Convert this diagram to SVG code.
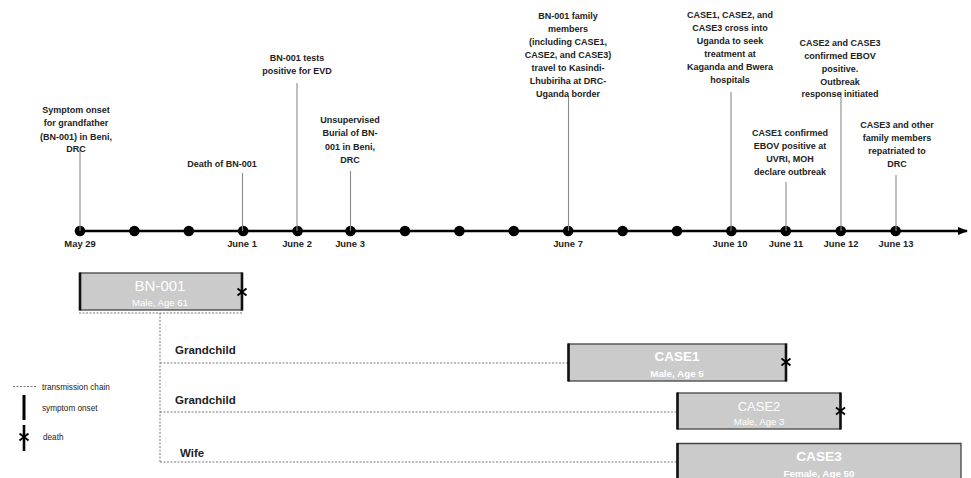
<svg xmlns="http://www.w3.org/2000/svg" width="971" height="478" viewBox="0 0 971 478">
<defs>
<style>
.ev{font-family:"Liberation Sans",Arial,sans-serif;font-weight:bold;font-size:9px;fill:#222;text-anchor:middle}
.dt{font-family:"Liberation Sans",Arial,sans-serif;font-weight:bold;font-size:9.4px;fill:#222;text-anchor:middle}
.stem{stroke:#8a8a8a;stroke-width:1.1;fill:none}
.dot{fill:#000}
.box{fill:#cbcbcb;stroke:#444;stroke-width:1.3}
.edge{stroke:#111;stroke-width:2.6;fill:none}
.ast{stroke:#000;stroke-width:1.8;fill:none}
.chain{stroke:#777;stroke-width:1;stroke-dasharray:2 1.5;fill:none}
.rel{font-family:"Liberation Sans",Arial,sans-serif;font-weight:bold;font-size:11.5px;fill:#222}
.lg{font-family:"Liberation Sans",Arial,sans-serif;font-size:8.2px;fill:#222}
.nm{font-family:"Liberation Sans",Arial,sans-serif;fill:#fff;text-anchor:middle}
</style>
<marker id="arr" markerWidth="10" markerHeight="8" refX="9" refY="4" orient="auto" markerUnits="userSpaceOnUse">
<path d="M0,0 L10,4 L0,8 z" fill="#000"/>
</marker>
</defs>

<g id="timeline">
<line x1="80" y1="231" x2="967" y2="231" stroke="#000" stroke-width="2.6" marker-end="url(#arr)"/>
<g class="dot">
<circle cx="80" cy="231" r="5.3"/><circle cx="134.4" cy="231" r="5.3"/><circle cx="188.8" cy="231" r="5.3"/><circle cx="243.2" cy="231" r="5.3"/>
<circle cx="297.6" cy="231" r="5.3"/><circle cx="350.5" cy="231" r="5.3"/><circle cx="405" cy="231" r="5.3"/><circle cx="459.4" cy="231" r="5.3"/>
<circle cx="513.8" cy="231" r="5.3"/><circle cx="568.2" cy="231" r="5.3"/><circle cx="622.6" cy="231" r="5.3"/><circle cx="677" cy="231" r="5.3"/>
<circle cx="731.4" cy="231" r="5.3"/><circle cx="785.8" cy="231" r="5.3"/><circle cx="840.8" cy="231" r="5.3"/><circle cx="895.6" cy="231" r="5.3"/>
</g>
<text class="dt" x="80" y="246.5">May 29</text>
<text class="dt" x="242" y="246.5">June 1</text>
<text class="dt" x="297" y="246.5">June 2</text>
<text class="dt" x="350" y="246.5">June 3</text>
<text class="dt" x="568" y="246.5">June 7</text>
<text class="dt" x="730" y="246.5">June 10</text>
<text class="dt" x="786" y="246.5">June 11</text>
<text class="dt" x="841" y="246.5">June 12</text>
<text class="dt" x="896" y="246.5">June 13</text>
</g>

<g id="connectors">
<line class="stem" x1="80" y1="149" x2="80" y2="231"/>
<line class="stem" x1="242.5" y1="173" x2="242.5" y2="231"/>
<line class="stem" x1="297" y1="83" x2="297" y2="231"/>
<line class="stem" x1="350.5" y1="171" x2="350.5" y2="231"/>
<line class="stem" x1="568.5" y1="96" x2="568.5" y2="231"/>
<line class="stem" x1="731" y1="92" x2="731" y2="231"/>
<line class="stem" x1="786" y1="182" x2="786" y2="231"/>
<line class="stem" x1="841" y1="92" x2="841" y2="231"/>
<line class="stem" x1="896" y1="175" x2="896" y2="231"/>
<path class="chain" d="M79,313 H242 M160,313 V462 M160,363 H568 M160,412 H677 M160,462 H677"/>
</g>

<g id="ev-may29"><text class="ev"><tspan x="76" y="113">Symptom onset</tspan><tspan x="76" y="126">for grandfather</tspan><tspan x="76" y="139.5">(BN-001) in Beni,</tspan><tspan x="76" y="152">DRC</tspan></text></g>
<g id="ev-june1"><text class="ev" x="222" y="166.5">Death of BN-001</text></g>
<g id="ev-june2"><text class="ev"><tspan x="297" y="61">BN-001 tests</tspan><tspan x="297" y="74">positive for EVD</tspan></text></g>
<g id="ev-june3"><text class="ev"><tspan x="350" y="122.5">Unsupervised</tspan><tspan x="350" y="136">Burial of BN-</tspan><tspan x="350" y="149.5">001 in Beni,</tspan><tspan x="350" y="162.5">DRC</tspan></text></g>
<g id="ev-june7"><text class="ev"><tspan x="568" y="19">BN-001 family</tspan><tspan x="568" y="32">members</tspan><tspan x="568" y="45">(including CASE1,</tspan><tspan x="568" y="58">CASE2, and CASE3)</tspan><tspan x="568" y="71">travel to Kasindi-</tspan><tspan x="568" y="84">Lhubiriha at DRC-</tspan><tspan x="568" y="97">Uganda border</tspan></text></g>
<g id="ev-june10"><text class="ev"><tspan x="730" y="17.5">CASE1, CASE2, and</tspan><tspan x="730" y="30.5">CASE3 cross into</tspan><tspan x="730" y="43.5">Uganda to seek</tspan><tspan x="730" y="56.5">treatment at</tspan><tspan x="730" y="69.5">Kaganda and Bwera</tspan><tspan x="730" y="82.5">hospitals</tspan></text></g>
<g id="ev-june11"><text class="ev"><tspan x="790" y="135.5">CASE1 confirmed</tspan><tspan x="790" y="148.5">EBOV positive at</tspan><tspan x="790" y="161.5">UVRI, MOH</tspan><tspan x="790" y="174.5">declare outbreak</tspan></text></g>
<g id="ev-june12"><text class="ev"><tspan x="840" y="45.5">CASE2 and CASE3</tspan><tspan x="840" y="58.5">confirmed EBOV</tspan><tspan x="840" y="71.5">positive.</tspan><tspan x="840" y="84.5">Outbreak</tspan><tspan x="840" y="97">response initiated</tspan></text></g>
<g id="ev-june13"><text class="ev"><tspan x="897" y="127.5">CASE3 and other</tspan><tspan x="897" y="140.5">family members</tspan><tspan x="897" y="153.5">repatriated to</tspan><tspan x="897" y="166.5">DRC</tspan></text></g>

<g id="bn001">
<rect class="box" x="80" y="273" width="162" height="37"/>
<line class="edge" x1="80" y1="272.5" x2="80" y2="310.5"/>
<line class="edge" x1="242" y1="272.5" x2="242" y2="310.5"/>
<path class="ast" d="M237.5,288.5 L246.5,295.5 M237.5,295.5 L246.5,288.5"/>
<text class="nm" x="160" y="290.5" font-size="15">BN-001</text>
<text class="nm" x="160" y="305.5" font-size="9.6">Male, Age 61</text>
</g>

<g id="lbl-grandchild1"><text class="rel" x="175" y="354">Grandchild</text></g>
<g id="lbl-grandchild2"><text class="rel" x="175" y="404">Grandchild</text></g>
<g id="lbl-wife"><text class="rel" x="180" y="457">Wife</text></g>

<g id="case1">
<rect class="box" x="568.5" y="344" width="217.5" height="37"/>
<line class="edge" x1="568.5" y1="343.5" x2="568.5" y2="381.5"/>
<line class="edge" x1="786" y1="343.5" x2="786" y2="381.5"/>
<path class="ast" d="M781.5,358.5 L790.5,365.5 M781.5,365.5 L790.5,358.5"/>
<text class="nm" x="677" y="361" font-size="13.5" font-weight="bold">CASE1</text>
<text class="nm" x="677" y="376.5" font-size="9.8" font-weight="bold">Male, Age 5</text>
</g>

<g id="case2">
<rect class="box" x="677.5" y="393" width="163" height="36"/>
<line class="edge" x1="677.5" y1="392.5" x2="677.5" y2="429.5"/>
<line class="edge" x1="840.5" y1="392.5" x2="840.5" y2="429.5"/>
<path class="ast" d="M836,407.5 L845,414.5 M836,414.5 L845,407.5"/>
<text class="nm" x="759" y="410.5" font-size="13">CASE2</text>
<text class="nm" x="759" y="425" font-size="9.6">Male, Age 3</text>
</g>

<g id="case3">
<path class="box" d="M677.5,480 V443.5 H961 V480"/>
<line class="edge" x1="677.5" y1="443" x2="677.5" y2="480" stroke-width="1.8"/>
<text class="nm" x="819" y="461" font-size="13.7" font-weight="bold">CASE3</text>
<text class="nm" x="819" y="476.5" font-size="9.8" font-weight="bold">Female, Age 50</text>
</g>

<g id="legend">
<line class="chain" x1="13" y1="386.5" x2="36" y2="386.5"/>
<text class="lg" x="42" y="389.5">transmission chain</text>
<line x1="24" y1="395" x2="24" y2="420" stroke="#000" stroke-width="3"/>
<text class="lg" x="42" y="410.5">symptom onset</text>
<line x1="24" y1="425" x2="24" y2="451" stroke="#000" stroke-width="2.6"/>
<path class="ast" d="M19.5,433.5 L28.5,440.5 M19.5,440.5 L28.5,433.5"/>
<text class="lg" x="43" y="439.5">death</text>
</g>
</svg>
